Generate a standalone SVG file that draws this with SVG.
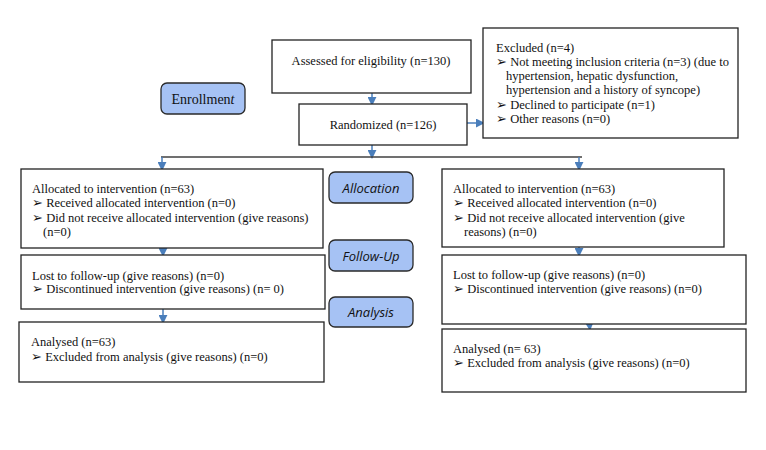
<svg xmlns="http://www.w3.org/2000/svg" width="766" height="450" viewBox="0 0 766 450">
<defs>
<marker id="ah" viewBox="0 0 10 10" refX="9" refY="5" markerWidth="6" markerHeight="6" orient="auto" markerUnits="strokeWidth">
<path d="M0,0 L10,5 L0,10 z" fill="#4a7ebb"/>
</marker>
<style>
.box{fill:#fff;stroke:#222;stroke-width:1.3}
.lab{fill:#a6c2f4;stroke:#2a2a2a;stroke-width:1.3}
.t{font-family:"Liberation Serif","Times New Roman",serif;font-size:12.5px;fill:#111}
.ls{font-family:"Open Sans","Liberation Sans",sans-serif;font-size:13px;font-style:italic;fill:#111;text-anchor:middle}
.arr{stroke:#4a7ebb;stroke-width:1.5;fill:none;marker-end:url(#ah)}
</style>
</defs>
<rect width="766" height="450" fill="#fff"/>
<g id="connectors">
<line class="arr" x1="372" y1="92" x2="372" y2="105"/>
<line class="arr" x1="372" y1="145" x2="372" y2="158"/>
<line class="arr" x1="467" y1="123" x2="484" y2="123"/>
<line x1="161" y1="157" x2="582" y2="157" stroke="#404040" stroke-width="1.5"/>
<line class="arr" x1="162" y1="157" x2="162" y2="170"/>
<line class="arr" x1="579" y1="157" x2="579" y2="170"/>
<line class="arr" x1="163" y1="246" x2="163" y2="256"/>
<line class="arr" x1="579" y1="240" x2="579" y2="256"/>
<line class="arr" x1="163" y1="309" x2="163" y2="323"/>
<line class="arr" x1="589" y1="320" x2="590" y2="330"/>
</g>
<g id="enrollment">
<rect class="lab" x="161" y="83" width="84" height="31" rx="6"/>
<text x="203" y="104" text-anchor="middle" style="font-family:'Liberation Serif',serif;font-size:14px;fill:#111">Enrollmen<tspan font-style="italic">t</tspan></text>
</g>
<g id="assessed">
<rect class="box" x="272" y="40" width="199" height="53"/>
<text class="t" x="371" y="65" text-anchor="middle">Assessed for eligibility (n=130)</text>
</g>
<g id="randomized">
<rect class="box" x="299" y="104" width="168" height="41"/>
<text class="t" x="383" y="129" text-anchor="middle">Randomized (n=126)</text>
</g>
<g id="excluded">
<rect class="box" x="483" y="28" width="255" height="110"/>
<text class="t" x="496" y="52">Excluded (n=4)</text>
<text class="t" x="496" y="66">➢ Not meeting inclusion criteria (n=3) (due to</text>
<text class="t" x="506" y="80">hypertension, hepatic dysfunction,</text>
<text class="t" x="506" y="94">hypertension and a history of syncope)</text>
<text class="t" x="496" y="109">➢ Declined to participate (n=1)</text>
<text class="t" x="496" y="123">➢ Other reasons (n=0)</text>
</g>
<g id="allocation">
<rect class="lab" x="329" y="172" width="84" height="31" rx="6"/>
<text class="ls" x="371" y="193">Allocation</text>
</g>
<g id="followup">
<rect class="lab" x="329" y="240" width="84" height="31" rx="6"/>
<text class="ls" x="371" y="261">Follow-Up</text>
</g>
<g id="analysis">
<rect class="lab" x="329" y="297" width="84" height="30" rx="6"/>
<text class="ls" x="371" y="317">Analysis</text>
</g>
<g id="alloc-left">
<rect class="box" x="21" y="169" width="302" height="79"/>
<text class="t" x="32" y="193">Allocated to intervention (n=63)</text>
<text class="t" x="32" y="207">➢ Received allocated intervention (n=0)</text>
<text class="t" x="32" y="222">➢ Did not receive allocated intervention (give reasons)</text>
<text class="t" x="43" y="236">(n=0)</text>
</g>
<g id="alloc-right">
<rect class="box" x="442" y="169" width="282" height="78"/>
<text class="t" x="453" y="193">Allocated to intervention (n=63)</text>
<text class="t" x="453" y="207">➢ Received allocated intervention (n=0)</text>
<text class="t" x="453" y="222">➢ Did not receive allocated intervention (give</text>
<text class="t" x="464" y="236">reasons) (n=0)</text>
</g>
<g id="follow-left">
<rect class="box" x="21" y="255" width="304" height="54"/>
<text class="t" x="32" y="280">Lost to follow-up (give reasons) (n=0)</text>
<text class="t" x="32" y="293">➢ Discontinued intervention (give reasons) (n= 0)</text>
</g>
<g id="follow-right">
<rect class="box" x="442" y="255" width="304" height="69"/>
<text class="t" x="453" y="279">Lost to follow-up (give reasons) (n=0)</text>
<text class="t" x="453" y="293">➢ Discontinued intervention (give reasons) (n=0)</text>
</g>
<g id="analysed-left">
<rect class="box" x="19" y="322" width="305" height="60"/>
<text class="t" x="31" y="346">Analysed (n=63)</text>
<text class="t" x="31" y="361">➢ Excluded from analysis (give reasons) (n=0)</text>
</g>
<g id="analysed-right">
<rect class="box" x="442" y="329" width="304" height="63"/>
<text class="t" x="453" y="353">Analysed (n= 63)</text>
<text class="t" x="453" y="367">➢ Excluded from analysis (give reasons) (n=0)</text>
</g>
</svg>
